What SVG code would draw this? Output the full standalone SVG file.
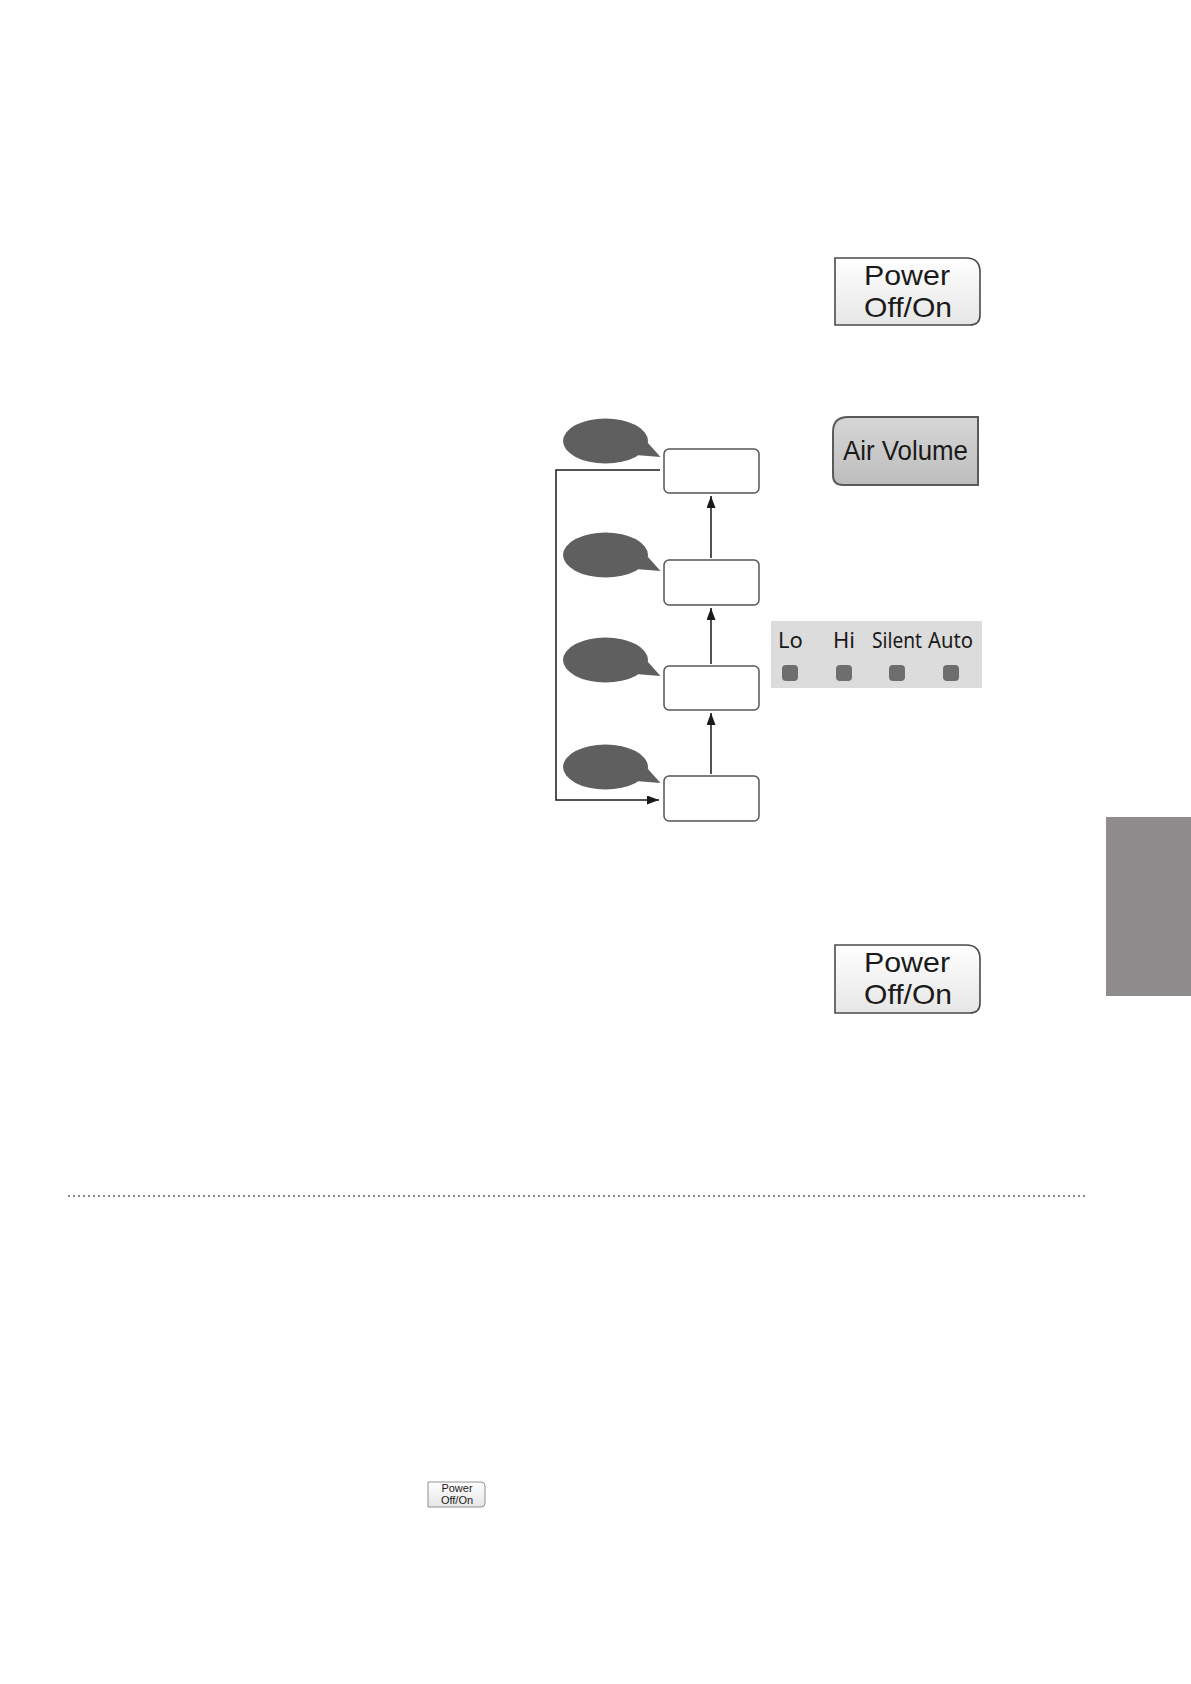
<svg xmlns="http://www.w3.org/2000/svg" width="1191" height="1684" viewBox="0 0 1191 1684">
<defs>
<linearGradient id="gPow" x1="0" y1="0" x2="0" y2="1">
<stop offset="0" stop-color="#ffffff"/><stop offset="1" stop-color="#e6e6e6"/>
</linearGradient>
<linearGradient id="gAir" x1="0" y1="0" x2="0" y2="1">
<stop offset="0" stop-color="#d6d6d6"/><stop offset="1" stop-color="#bdbdbd"/>
</linearGradient>
<marker id="ah" viewBox="0 0 12 9" refX="12" refY="4.5" markerWidth="12" markerHeight="9" markerUnits="userSpaceOnUse" orient="auto">
<path d="M0,0 L12,4.5 L0,9 Z" fill="#1a1a1a"/>
</marker>
<g id="bubble">
<ellipse cx="0" cy="0" rx="42.5" ry="22.5"/>
<polygon points="38,-3 55,16 30,14"/>
</g>
</defs>
<style>
.btn{fill:url(#gPow);stroke:#4a4a4a;stroke-width:1.6}
.air{fill:url(#gAir);stroke:#5a5a5a;stroke-width:2}
.bt{font-family:"Liberation Sans","Noto Sans","DejaVu Sans",sans-serif;fill:#1a1a1a;text-anchor:middle}
.big{font-size:28px}
.led{font-family:"Noto Sans","Open Sans","DejaVu Sans",sans-serif;font-size:22px;fill:#1a1a1a}
.box{fill:#ffffff;stroke:#555555;stroke-width:1.5}
.bub{fill:#5f5f5f}
.con{fill:none;stroke:#1a1a1a;stroke-width:1.5}
.dot{fill:#6e6e6e}
</style>

<g id="power1">
<path class="btn" d="M835,258 H966 Q980,258 980,272 V315 Q980,325 970,325 H835 Z"/>
<text class="bt big" x="907" y="285" textLength="86" lengthAdjust="spacingAndGlyphs">Power</text>
<text class="bt big" x="908" y="317" textLength="88" lengthAdjust="spacingAndGlyphs">Off/On</text>
</g>

<g id="airvolume">
<path class="air" d="M848,417 H978 V485 H843 Q833,485 833,475 V432 Q833,417 848,417 Z"/>
<text class="bt big" x="905.5" y="460" textLength="125" lengthAdjust="spacingAndGlyphs" font-family="Noto Sans, sans-serif">Air Volume</text>
</g>

<g id="bubble1" class="bub"><use href="#bubble" x="605.5" y="441"/></g>
<g id="bubble2" class="bub"><use href="#bubble" x="605.5" y="555"/></g>
<g id="bubble3" class="bub"><use href="#bubble" x="605.5" y="660"/></g>
<g id="bubble4" class="bub"><use href="#bubble" x="605.5" y="767"/></g>

<g id="box1"><rect class="box" x="664" y="449" width="95" height="44" rx="5"/></g>
<g id="box2"><rect class="box" x="664" y="560" width="95" height="45" rx="5"/></g>
<g id="box3"><rect class="box" x="664" y="666" width="95" height="44" rx="5"/></g>
<g id="box4"><rect class="box" x="664" y="776" width="95" height="45" rx="5"/></g>

<g id="connectors">
<line class="con" x1="711" y1="558" x2="711" y2="496" marker-end="url(#ah)"/>
<line class="con" x1="711" y1="664" x2="711" y2="608" marker-end="url(#ah)"/>
<line class="con" x1="711" y1="774" x2="711" y2="713" marker-end="url(#ah)"/>
<polyline class="con" points="660,470 556,470 556,800 659,800" marker-end="url(#ah)"/>
</g>

<g id="ledpanel">
<rect x="771" y="621" width="211" height="67" fill="#dcdcdc"/>
<text class="led" x="778" y="648">Lo</text>
<text class="led" x="833" y="648">Hi</text>
<text class="led" x="872" y="648" textLength="50" lengthAdjust="spacingAndGlyphs">Silent</text>
<text class="led" x="928" y="648" textLength="45" lengthAdjust="spacingAndGlyphs">Auto</text>
<rect class="dot" x="782" y="665" width="16" height="16" rx="4"/>
<rect class="dot" x="836" y="665" width="16" height="16" rx="4"/>
<rect class="dot" x="889" y="665" width="16" height="16" rx="4"/>
<rect class="dot" x="943" y="665" width="16" height="16" rx="4"/>
</g>

<g id="power2">
<path class="btn" d="M835,945 H966 Q980,945 980,959 V1003 Q980,1013 970,1013 H835 Z"/>
<text class="bt big" x="907" y="972" textLength="86" lengthAdjust="spacingAndGlyphs">Power</text>
<text class="bt big" x="908" y="1004" textLength="88" lengthAdjust="spacingAndGlyphs">Off/On</text>
</g>

<rect id="tab" x="1106" y="817" width="85" height="179" fill="#8e8c8c"/>

<line id="divider" x1="68" y1="1196" x2="1088" y2="1196" stroke="#8a8a8a" stroke-width="2" stroke-dasharray="2 3"/>

<g id="power3">
<path fill="url(#gPow)" stroke="#777" stroke-width="0.8" d="M428,1482 H481 Q485,1482 485,1486 V1503 Q485,1507 481,1507 H428 Z"/>
<text class="bt" font-size="11" x="457" y="1492">Power</text>
<text class="bt" font-size="11" x="457" y="1504">Off/On</text>
</g>
</svg>
